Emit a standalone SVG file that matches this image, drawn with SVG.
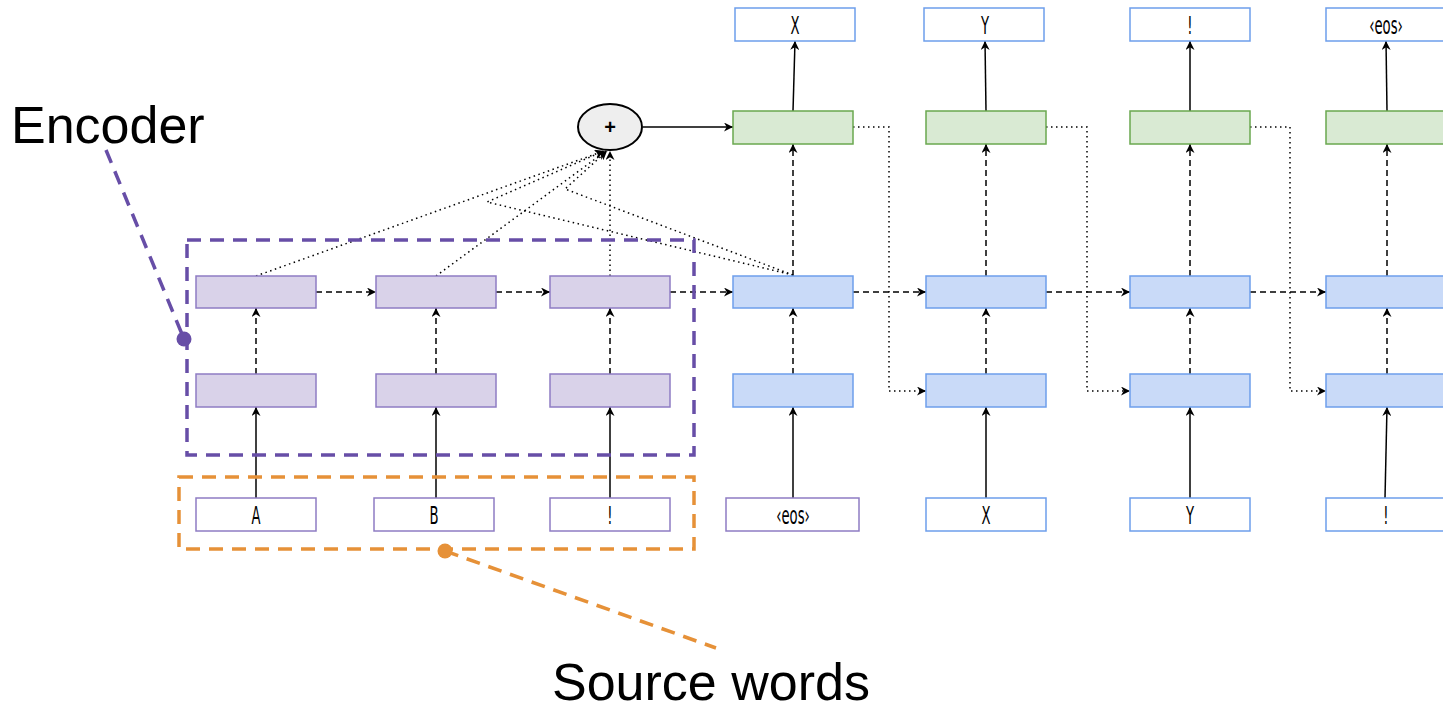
<svg xmlns="http://www.w3.org/2000/svg" width="1443" height="707" viewBox="0 0 1443 707">
<defs>
<marker id="arr" viewBox="0 0 10 10" refX="10" refY="5" markerWidth="9" markerHeight="9" markerUnits="userSpaceOnUse" orient="auto">
<path d="M0,0 L10,5 L0,10 L3,5 z" fill="#000"/>
</marker>
<style>
.enc{fill:#d9d2e9;stroke:#8e7cc3;stroke-width:1.5}
.src{fill:#fff;stroke:#8e7cc3;stroke-width:1.5}
.dec{fill:#c9daf8;stroke:#6d9eeb;stroke-width:1.5}
.out{fill:#fff;stroke:#6d9eeb;stroke-width:1.5}
.grn{fill:#d9ead3;stroke:#6aa84f;stroke-width:1.5}
.lbl{font-family:"DejaVu Sans","Liberation Sans",sans-serif;font-size:24px;fill:#000;text-anchor:middle}
.solid{stroke:#000;stroke-width:1.5;fill:none;marker-end:url(#arr)}
.dash{stroke:#000;stroke-width:1.5;fill:none;stroke-dasharray:6 4;marker-end:url(#arr)}
.dota{stroke:#000;stroke-width:1.5;fill:none;stroke-dasharray:1.5 3.5;marker-end:url(#arr)}
.big{font-family:"Liberation Sans",Arial,sans-serif;font-size:52px;fill:#000}
</style>
</defs>

<g id="connectors">
<line class="solid" x1="256" y1="498" x2="256" y2="407"/>
<line class="solid" x1="436" y1="498" x2="436" y2="407"/>
<line class="solid" x1="610" y1="498" x2="610" y2="407"/>
<line class="dash" x1="256" y1="374" x2="256" y2="308"/>
<line class="dash" x1="436" y1="374" x2="436" y2="308"/>
<line class="dash" x1="610" y1="374" x2="610" y2="308"/>
<line class="dash" x1="316" y1="292" x2="376" y2="292"/>
<line class="dash" x1="496" y1="292" x2="550" y2="292"/>
<line class="dash" x1="670" y1="292" x2="733" y2="292"/>
<line class="dash" x1="853" y1="292" x2="926" y2="292"/>
<line class="dash" x1="1046" y1="292" x2="1130" y2="292"/>
<line class="dash" x1="1250" y1="292" x2="1326" y2="292"/>
<line class="dota" x1="256" y1="276" x2="604" y2="151"/>
<line class="dota" x1="436" y1="276" x2="606" y2="151"/>
<line class="dota" x1="610" y1="276" x2="610" y2="151"/>
<polyline class="dota" points="793,275 487,202 604,151"/>
<polyline class="dota" points="793,275 565,189 607,151"/>
<line class="solid" x1="643" y1="127" x2="733" y2="127"/>
<line class="solid" x1="793" y1="498" x2="793" y2="407"/>
<line class="solid" x1="986" y1="498" x2="986" y2="407"/>
<line class="solid" x1="1190" y1="498" x2="1190" y2="407"/>
<line class="solid" x1="1385" y1="498" x2="1387" y2="407"/>
<line class="dash" x1="793" y1="374" x2="793" y2="308"/>
<line class="dash" x1="986" y1="374" x2="986" y2="308"/>
<line class="dash" x1="1190" y1="374" x2="1190" y2="308"/>
<line class="dash" x1="1387" y1="374" x2="1387" y2="308"/>
<line class="dash" x1="793" y1="276" x2="793" y2="144"/>
<line class="dash" x1="986" y1="276" x2="986" y2="144"/>
<line class="dash" x1="1190" y1="276" x2="1190" y2="144"/>
<line class="dash" x1="1387" y1="276" x2="1387" y2="144"/>
<line class="solid" x1="793" y1="111" x2="795" y2="41"/>
<line class="solid" x1="986" y1="111" x2="985" y2="41"/>
<line class="solid" x1="1190" y1="111" x2="1190" y2="41"/>
<line class="solid" x1="1387" y1="111" x2="1386" y2="41"/>
<polyline class="dota" points="853,127 889,127 889,391 926,391"/>
<polyline class="dota" points="1046,127 1087,127 1087,391 1130,391"/>
<polyline class="dota" points="1250,127 1290,127 1290,391 1326,391"/>
</g>

<g id="encoder-top-1"><rect class="enc" x="196" y="276" width="120" height="32"/></g>
<g id="encoder-top-2"><rect class="enc" x="376" y="276" width="120" height="32"/></g>
<g id="encoder-top-3"><rect class="enc" x="550" y="276" width="120" height="32"/></g>
<g id="encoder-mid-1"><rect class="enc" x="196" y="374" width="120" height="33"/></g>
<g id="encoder-mid-2"><rect class="enc" x="376" y="374" width="120" height="33"/></g>
<g id="encoder-mid-3"><rect class="enc" x="550" y="374" width="120" height="33"/></g>

<g id="src-A"><rect class="src" x="196" y="498" width="120" height="33"/><text class="lbl" transform="translate(256,524) scale(0.55,1)">A</text></g>
<g id="src-B"><rect class="src" x="374" y="498" width="120" height="33"/><text class="lbl" transform="translate(434,524) scale(0.55,1)">B</text></g>
<g id="src-excl"><rect class="src" x="550" y="498" width="120" height="33"/><text class="lbl" transform="translate(610,524) scale(0.55,1)">!</text></g>

<g id="dec-in-eos"><rect class="src" x="726" y="498" width="133" height="33"/><text class="lbl" transform="translate(793,524) scale(0.55,1)">‹eos›</text></g>
<g id="dec-in-X"><rect class="out" x="926" y="498" width="120" height="33"/><text class="lbl" transform="translate(986,524) scale(0.55,1)">X</text></g>
<g id="dec-in-Y"><rect class="out" x="1130" y="498" width="120" height="33"/><text class="lbl" transform="translate(1190,524) scale(0.55,1)">Y</text></g>
<g id="dec-in-excl"><rect class="out" x="1326" y="498" width="125" height="33"/><text class="lbl" transform="translate(1386,524) scale(0.55,1)">!</text></g>

<g id="dec-mid-1"><rect class="dec" x="733" y="374" width="120" height="33"/></g>
<g id="dec-mid-2"><rect class="dec" x="926" y="374" width="120" height="33"/></g>
<g id="dec-mid-3"><rect class="dec" x="1130" y="374" width="120" height="33"/></g>
<g id="dec-mid-4"><rect class="dec" x="1326" y="374" width="125" height="33"/></g>

<g id="dec-top-1"><rect class="dec" x="733" y="276" width="120" height="32"/></g>
<g id="dec-top-2"><rect class="dec" x="926" y="276" width="120" height="32"/></g>
<g id="dec-top-3"><rect class="dec" x="1130" y="276" width="120" height="32"/></g>
<g id="dec-top-4"><rect class="dec" x="1326" y="276" width="125" height="32"/></g>

<g id="att-1"><rect class="grn" x="733" y="111" width="120" height="33"/></g>
<g id="att-2"><rect class="grn" x="926" y="111" width="120" height="33"/></g>
<g id="att-3"><rect class="grn" x="1130" y="111" width="120" height="33"/></g>
<g id="att-4"><rect class="grn" x="1326" y="111" width="125" height="33"/></g>

<g id="out-X"><rect class="out" x="735" y="8" width="120" height="33"/><text class="lbl" transform="translate(795,34) scale(0.55,1)">X</text></g>
<g id="out-Y"><rect class="out" x="924" y="8" width="120" height="33"/><text class="lbl" transform="translate(985,34) scale(0.55,1)">Y</text></g>
<g id="out-excl"><rect class="out" x="1130" y="8" width="120" height="33"/><text class="lbl" transform="translate(1190,34) scale(0.55,1)">!</text></g>
<g id="out-eos"><rect class="out" x="1326" y="8" width="125" height="33"/><text class="lbl" transform="translate(1386,34) scale(0.55,1)">‹eos›</text></g>

<g id="plus"><ellipse cx="610" cy="127" rx="32" ry="23" fill="#eeeeee" stroke="#000" stroke-width="2"/><text x="610" y="134" font-family="Liberation Sans,Arial,sans-serif" font-size="20" font-weight="bold" text-anchor="middle">+</text></g>

<g id="encoder-annotation">
<rect x="187" y="240" width="507" height="215" fill="none" stroke="#674ea7" stroke-width="3.5" stroke-dasharray="14 9"/>
<line x1="106" y1="150" x2="184" y2="339" stroke="#674ea7" stroke-width="3.5" stroke-dasharray="14 9"/>
<circle cx="184" cy="339" r="7.5" fill="#674ea7"/>
<text class="big" x="11" y="143">Encoder</text>
</g>

<g id="source-annotation">
<rect x="179" y="477" width="515" height="72" fill="none" stroke="#e69138" stroke-width="3.5" stroke-dasharray="14 9"/>
<line x1="445" y1="551" x2="716" y2="648" stroke="#e69138" stroke-width="3.5" stroke-dasharray="14 9"/>
<circle cx="445" cy="551" r="7.5" fill="#e69138"/>
<text class="big" x="552" y="700">Source words</text>
</g>
</svg>
